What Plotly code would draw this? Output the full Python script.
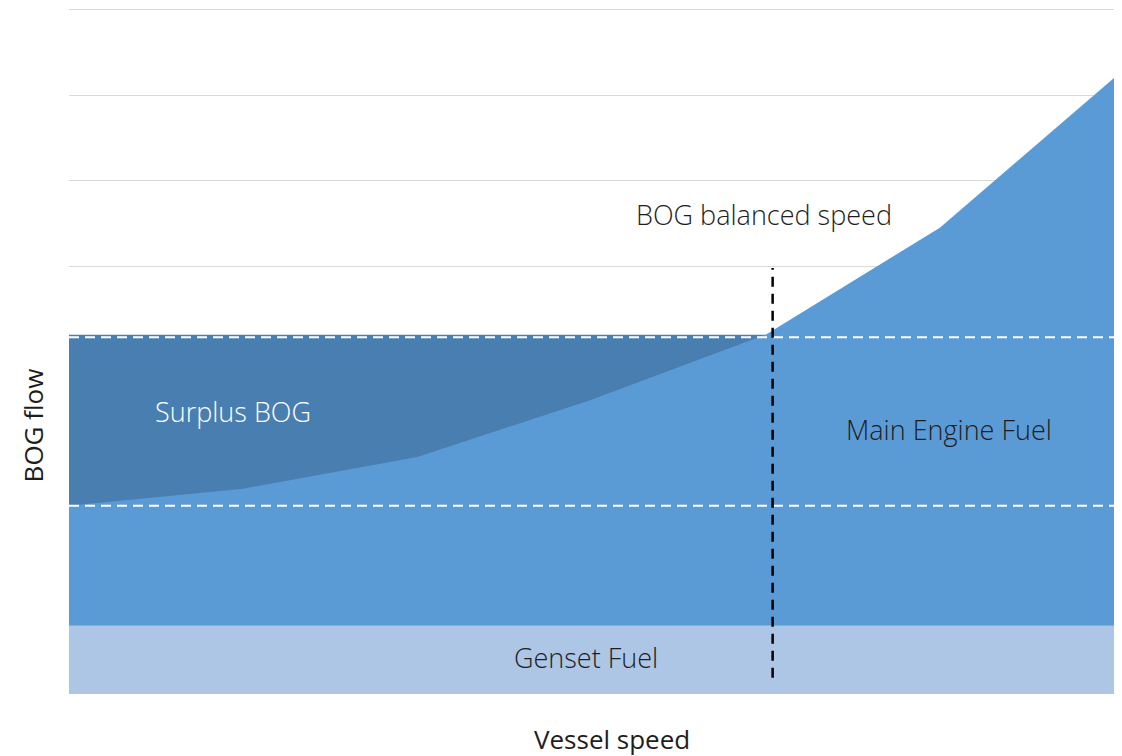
import plotly.graph_objects as go

# Vessel speed steps (evenly spaced, unitless) and BOG flow levels
speed_steps = [0, 1, 2, 3, 4, 5, 6]
main_engine_fuel = [2.2, 2.4, 2.77, 3.44, 4.2, 5.45, 7.2]
genset_fuel = [0.8, 0.8, 0.8, 0.8, 0.8, 0.8, 0.8]
natural_bog_level = 4.2
natural_bog_line = 4.17
min_bog_line = 2.2
balanced_speed = 4.04

FONT = "Open Sans"
C_MAIN = "#5B9BD5"
C_SURPLUS = "#487FB0"
C_GENSET = "#ADC6E5"
C_TEXT = "#1E1E1E"

fig = go.Figure()

# Surplus BOG: natural boil-off up to the balanced speed
fig.add_trace(go.Scatter(
    x=[speed_steps[0], speed_steps[4]], y=[natural_bog_level, natural_bog_level],
    mode="lines", line=dict(width=0), fill="tozeroy", fillcolor=C_SURPLUS,
    hoverinfo="skip", showlegend=False))

# Main engine fuel demand
fig.add_trace(go.Scatter(
    x=speed_steps, y=main_engine_fuel, mode="lines", line=dict(width=0),
    fill="tozeroy", fillcolor=C_MAIN, hoverinfo="skip", showlegend=False))

# Genset fuel band
fig.add_trace(go.Scatter(
    x=speed_steps, y=genset_fuel, mode="lines", line=dict(width=0),
    fill="tozeroy", fillcolor=C_GENSET, hoverinfo="skip", showlegend=False))

# White dashed reference levels
for lvl in (natural_bog_line, min_bog_line):
    fig.add_trace(go.Scatter(
        x=[speed_steps[0], speed_steps[-1]], y=[lvl, lvl], mode="lines",
        line=dict(color="white", width=2, dash="10px,6px"),
        hoverinfo="skip", showlegend=False))

# Balanced speed marker
fig.add_trace(go.Scatter(
    x=[balanced_speed, balanced_speed], y=[0.19, 4.98], mode="lines",
    line=dict(color="black", width=2.5, dash="10px,7px"),
    hoverinfo="skip", showlegend=False))

labels = [
    ("BOG balanced speed", 3.99, 5.6, C_TEXT),
    ("Surplus BOG", 0.94, 3.30, "white"),
    ("Main Engine Fuel", 5.05, 3.09, C_TEXT),
    ("Genset Fuel", 2.97, 0.43, C_TEXT),
]
for text, x, y, col in labels:
    fig.add_annotation(x=x, y=y, text=text, showarrow=False,
                       xanchor="center", yanchor="middle",
                       font=dict(family=FONT, size=27, color=col, weight=300))

# Axis titles
fig.add_annotation(xref="paper", yref="paper", x=0.5196, y=-0.065,
                   text="Vessel speed", showarrow=False,
                   xanchor="center", yanchor="middle",
                   font=dict(family=FONT, size=26, color=C_TEXT))
fig.add_annotation(xref="paper", yref="y", x=-0.0344, y=3.14,
                   text="BOG flow", showarrow=False, textangle=-90,
                   xanchor="center", yanchor="middle",
                   font=dict(family=FONT, size=26, color=C_TEXT))

fig.update_xaxes(range=[0, 6], showgrid=False, zeroline=False,
                 showticklabels=False, ticks="", showline=False)
fig.update_yaxes(range=[0, 8.03], dtick=1, showgrid=True, gridcolor="#D9D9D9",
                 gridwidth=1, zeroline=False, showticklabels=False, ticks="",
                 showline=False)

fig.update_layout(
    width=1122, height=756,
    margin=dict(l=69, r=8, t=7, b=62),
    plot_bgcolor="white", paper_bgcolor="white",
)

fig.write_html("out.html")
